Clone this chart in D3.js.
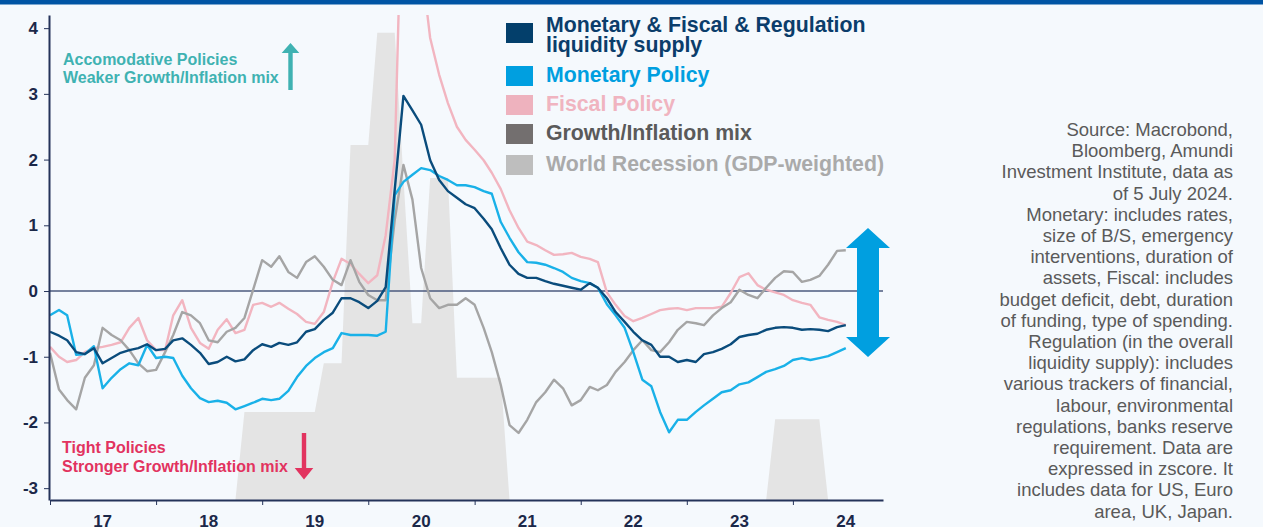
<!DOCTYPE html>
<html>
<head>
<meta charset="utf-8">
<script src="https://cdn.jsdelivr.net/npm/d3@7"></script>
<style>
  body { margin: 0; background: #f5f9fd; }
  svg { display: block; font-family: "Liberation Sans", Arial, sans-serif; }
</style>
</head>
<body>
<div id="chart"></div>
<script>
// monthly observations, Jan 2017 -> Jul 2024
var months = [
  "2017-01","2017-02","2017-03","2017-04","2017-05","2017-06","2017-07","2017-08","2017-09","2017-10","2017-11","2017-12",
  "2018-01","2018-02","2018-03","2018-04","2018-05","2018-06","2018-07","2018-08","2018-09","2018-10","2018-11","2018-12",
  "2019-01","2019-02","2019-03","2019-04","2019-05","2019-06","2019-07","2019-08","2019-09","2019-10","2019-11","2019-12",
  "2020-01","2020-02","2020-03","2020-04","2020-05","2020-06","2020-07","2020-08","2020-09","2020-10","2020-11","2020-12",
  "2021-01","2021-02","2021-03","2021-04","2021-05","2021-06","2021-07","2021-08","2021-09","2021-10","2021-11","2021-12",
  "2022-01","2022-02","2022-03","2022-04","2022-05","2022-06","2022-07","2022-08","2022-09","2022-10","2022-11","2022-12",
  "2023-01","2023-02","2023-03","2023-04","2023-05","2023-06","2023-07","2023-08","2023-09","2023-10","2023-11","2023-12",
  "2024-01","2024-02","2024-03","2024-04","2024-05","2024-06","2024-07"
]

// Monetary & Fiscal & Regulation liquidity supply
var liquidity = [
  -0.62,-0.68,-0.75,-0.93,-0.96,-0.87,-1.10,-1.02,-0.94,-0.90,-0.87,-0.81,
  -0.90,-0.88,-0.75,-0.72,-0.82,-0.94,-1.11,-1.08,-1.00,-1.07,-1.04,-0.90,
  -0.81,-0.85,-0.79,-0.82,-0.78,-0.62,-0.58,-0.44,-0.33,-0.11,-0.11,-0.17,
  -0.26,-0.15,0.06,1.54,2.97,2.75,2.53,1.99,1.69,1.52,1.42,1.32,
  1.26,1.10,0.94,0.65,0.40,0.26,0.20,0.20,0.15,0.11,0.08,0.05,
  0.02,0.12,0.05,-0.11,-0.32,-0.47,-0.62,-0.75,-0.82,-1.00,-1.00,-1.08,
  -1.05,-1.08,-0.96,-0.93,-0.88,-0.81,-0.70,-0.67,-0.65,-0.59,-0.56,-0.55,
  -0.56,-0.59,-0.58,-0.59,-0.61,-0.55,-0.52
]

// Monetary Policy
var monetary = [
  -0.37,-0.29,-0.37,-0.97,-0.96,-0.84,-1.48,-1.32,-1.19,-1.10,-1.13,-0.82,
  -1.02,-1.00,-1.02,-1.29,-1.48,-1.63,-1.69,-1.67,-1.70,-1.80,-1.75,-1.70,
  -1.64,-1.66,-1.64,-1.52,-1.31,-1.14,-1.02,-0.93,-0.87,-0.64,-0.67,-0.67,
  -0.67,-0.68,-0.62,1.46,1.66,1.77,1.87,1.84,1.75,1.69,1.61,1.61,
  1.58,1.52,1.48,1.05,0.81,0.59,0.44,0.43,0.40,0.35,0.29,0.20,
  0.15,0.12,0.05,-0.20,-0.37,-0.56,-0.93,-1.35,-1.45,-1.84,-2.15,-1.96,
  -1.96,-1.84,-1.74,-1.64,-1.54,-1.51,-1.42,-1.39,-1.31,-1.23,-1.19,-1.14,
  -1.05,-1.02,-1.05,-1.02,-0.99,-0.93,-0.87
]

// Fiscal Policy
var fiscal = [
  -0.85,-1.00,-1.08,-1.05,-0.93,-0.87,-0.85,-0.82,-0.78,-0.56,-0.41,-0.75,
  -0.90,-0.90,-0.37,-0.14,-0.56,-0.79,-0.88,-0.59,-0.43,-0.64,-0.59,-0.21,
  -0.18,-0.24,-0.18,-0.27,-0.35,-0.47,-0.50,-0.32,0.14,0.49,0.41,0.26,
  0.12,0.24,0.85,2.00,7.00,6.50,5.00,3.85,3.29,2.86,2.50,2.30,
  2.15,1.99,1.80,1.55,1.23,0.96,0.75,0.70,0.62,0.55,0.56,0.58,
  0.52,0.49,0.44,-0.02,-0.21,-0.38,-0.46,-0.41,-0.35,-0.29,-0.27,-0.26,
  -0.29,-0.26,-0.26,-0.26,-0.24,-0.03,0.21,0.27,0.09,0.02,-0.02,-0.06,
  -0.14,-0.18,-0.21,-0.40,-0.44,-0.47,-0.52
]

// Growth/Inflation mix
var growth = [
  -0.94,-1.50,-1.66,-1.80,-1.32,-1.13,-0.56,-0.67,-0.75,-0.90,-1.10,-1.22,
  -1.20,-0.93,-0.67,-0.32,-0.37,-0.49,-0.75,-0.78,-0.62,-0.56,-0.41,0.02,
  0.47,0.37,0.53,0.29,0.20,0.44,0.53,0.37,0.17,0.09,0.47,0.14,
  -0.06,-0.14,-0.14,1.08,1.92,1.39,0.35,-0.11,-0.26,-0.21,-0.21,-0.11,
  -0.21,-0.56,-0.93,-1.43,-2.04,-2.16,-1.96,-1.69,-1.54,-1.35,-1.48,-1.74,
  -1.66,-1.46,-1.51,-1.43,-1.23,-1.08,-0.90,-0.75,-0.90,-0.93,-0.78,-0.59,
  -0.47,-0.49,-0.52,-0.37,-0.26,-0.17,0.02,-0.06,-0.11,0.05,0.20,0.30,
  0.29,0.14,0.17,0.23,0.40,0.61,0.62
]

// World Recession (GDP-weighted), null = no recession
var recession = [
  null,null,null,null,null,null,null,null,null,null,null,null,
  null,null,null,null,null,null,null,null,null,null,-1.84,-1.84,
  -1.84,-1.84,-1.84,-1.84,-1.84,-1.84,-1.84,-1.10,-1.10,-1.10,2.22,2.22,
  2.22,3.93,3.93,3.93,1.72,-0.49,-0.49,1.72,1.72,1.72,-1.32,-1.32,
  -1.32,-1.32,-1.32,-1.32,null,null,null,null,null,null,null,null,
  null,null,null,null,null,null,null,null,null,null,null,null,
  null,null,null,null,null,null,null,null,null,null,-1.95,-1.95,
  -1.95,-1.95,-1.95,-1.95,null,null,null
]

var yTicks = [-3, -2, -1, 0, 1, 2, 3, 4]
var yearTicks = ["2017","2018","2019","2020","2021","2022","2023","2024"]
var yearLabels = ["17","18","19","20","21","22","23","24"]

var legendLabels = [
  ["Monetary & Fiscal & Regulation", "liquidity supply"],
  ["Monetary Policy"],
  ["Fiscal Policy"],
  ["Growth/Inflation mix"],
  ["World Recession (GDP-weighted)"]
]
var legendSquares = ["#033f6b", "#009fe0", "#eeb2be", "#736f6f", "#bebebe"]
var legendText = ["#0b3d6b", "#009fe0", "#f0b4c0", "#5a5a5a", "#aaaaaa"]

var noteLines = [
  "Source: Macrobond,",
  "Bloomberg, Amundi",
  "Investment Institute, data as",
  "of 5 July 2024.",
  "Monetary: includes rates,",
  "size of B/S, emergency",
  "interventions, duration of",
  "assets, Fiscal: includes",
  "budget deficit, debt, duration",
  "of funding, type of spending.",
  "Regulation (in the overall",
  "liquidity supply): includes",
  "various trackers of financial,",
  "labour, environmental",
  "regulations, banks reserve",
  "requirement. Data are",
  "expressed in zscore. It",
  "includes data for US, Euro",
  "area, UK, Japan."
]

// set the dimensions
var width = 1263
    height = 527
var plotLeft = 49, plotRight = 883, plotTop = 15, plotBottom = 500

var parseMonth = d3.timeParse("%Y-%m")
var parseYear = d3.timeParse("%Y")
var dates = months.map(parseMonth)

var x = d3.scaleTime()
    .domain([new Date(2017, 0, 1), new Date(2024, 10, 6)])
    .range([50, plotRight])
var y = d3.scaleLinear()
    .domain([-3.18, 4.2])
    .range([plotBottom, plotTop])

var svg = d3.select("#chart")
    .append("svg")
        .attr("width", width)
        .attr("height", height)

svg.append("rect")
    .attr("width", width).attr("height", height)
    .attr("fill", "#f5f9fd")
svg.append("rect")
    .attr("width", width).attr("height", 4.5)
    .attr("fill", "#0054a4")

svg.append("clipPath").attr("id", "plotclip")
    .append("rect")
    .attr("x", plotLeft).attr("y", plotTop)
    .attr("width", plotRight - plotLeft).attr("height", plotBottom - plotTop)

var plot = svg.append("g").attr("clip-path", "url(#plotclip)")

// recession shading
var recData = dates.map(function(d, i) { return {date: d, v: recession[i]} })
plot.append("path")
    .datum(recData)
    .attr("fill", "#e4e4e4")
    .attr("d", d3.area()
        .x(function(d) { return x(d.date) })
        .y0(y.range()[0])
        .y1(function(d) { return d.v == null ? y.range()[0] : y(d.v) }))

// zero line
plot.append("line")
    .attr("x1", plotLeft).attr("x2", plotRight)
    .attr("y1", y(0)).attr("y2", y(0))
    .attr("stroke", "#4b5a7e").attr("stroke-width", 1.3)

var series = [
  {values: fiscal, color: "#f2b5c0"},
  {values: growth, color: "#a5a5a5"},
  {values: monetary, color: "#19b1e8"},
  {values: liquidity, color: "#0a4c7c"}
]

var line = d3.line()
    .x(function(d) { return x(d.date) })
    .y(function(d) { return y(d.v) })

series.forEach(function(s) {
    plot.append("path")
        .datum(dates.map(function(d, i) { return {date: d, v: s.values[i]} }))
        .attr("fill", "none")
        .attr("stroke", s.color)
        .attr("stroke-width", 2.4)
        .attr("stroke-linejoin", "round")
        .attr("d", line)
})

// axes
var axisColor = "#24335a"
var yAxis = svg.append("g")
    .attr("transform", "translate(" + plotLeft + ",0)")
    .call(d3.axisLeft(y).tickValues(yTicks).tickSize(5).tickSizeOuter(0).tickPadding(6)
        .tickFormat(d3.format("d")))
yAxis.select(".domain").attr("stroke", axisColor).attr("stroke-width", 2)
yAxis.selectAll(".tick line").attr("stroke", axisColor)
yAxis.selectAll(".tick text")
    .attr("fill", "#1b2849")
    .style("font-size", "17px")
    .style("font-weight", "bold")
    .style("font-family", "'Liberation Sans', Arial, sans-serif")
    .text(function(d) { return d < 0 ? "-" + Math.abs(d) : d })

var xAxis = svg.append("g")
    .attr("transform", "translate(0," + plotBottom + ")")
    .call(d3.axisBottom(x).tickValues(yearTicks.map(parseYear)).tickSize(5).tickSizeOuter(0).tickFormat(""))
xAxis.select(".domain").attr("stroke", axisColor).attr("stroke-width", 2)
xAxis.selectAll(".tick line").attr("stroke", axisColor)

svg.selectAll(".yearlabel")
    .data(yearLabels)
    .enter()
    .append("text")
        .attr("x", function(d, i) { return x(new Date(+yearTicks[i], 6, 1)) })
        .attr("y", 527)
        .attr("text-anchor", "middle")
        .attr("fill", "#1b2849")
        .style("font-size", "17px")
        .style("font-weight", "bold")
        .text(function(d) { return d })

// legend
var legendY = [32, 82, 111, 140, 171]
var legend = svg.append("g")
legendLabels.forEach(function(lines, i) {
    var top = lines.length > 1 ? 23 : legendY[i] - 16
    legend.append("rect")
        .attr("x", 506).attr("y", top)
        .attr("width", 27).attr("height", 20)
        .attr("fill", legendSquares[i])
    lines.forEach(function(t, j) {
        legend.append("text")
            .attr("x", 546).attr("y", legendY[i] + j * 20)
            .attr("fill", legendText[i])
            .style("font-size", "21.3px")
            .style("font-weight", "bold")
            .text(t)
    })
})

// annotations
var teal = "#3fb2b2", red = "#e2335f"
svg.append("text").attr("x", 63).attr("y", 65).attr("fill", teal)
    .style("font-size", "16px").style("font-weight", "bold").text("Accomodative Policies")
svg.append("text").attr("x", 63).attr("y", 83).attr("fill", teal)
    .style("font-size", "16px").style("font-weight", "bold").text("Weaker Growth/Inflation mix")
svg.append("path").attr("fill", teal)
    .attr("d", "M288.3,90 L288.3,53 L281.7,53 L290.5,43 L299.3,53 L292.7,53 L292.7,90 Z")

svg.append("text").attr("x", 62).attr("y", 453).attr("fill", red)
    .style("font-size", "16px").style("font-weight", "bold").text("Tight Policies")
svg.append("text").attr("x", 62).attr("y", 472).attr("fill", red)
    .style("font-size", "16px").style("font-weight", "bold").text("Stronger Growth/Inflation mix")
svg.append("path").attr("fill", red)
    .attr("d", "M301.8,433 L306.2,433 L306.2,468 L313.3,468 L304,479.5 L294.7,468 L301.8,468 Z")

// double arrow on the right
svg.append("path").attr("fill", "#009fe0")
    .attr("d", "M868,228 L890,248 L879,248 L879,337 L890,337 L868,357 L846,337 L857,337 L857,248 L846,248 Z")

// source note
svg.append("g").selectAll("text")
    .data(noteLines)
    .enter()
    .append("text")
        .attr("x", 1233)
        .attr("y", function(d, i) { return 136 + i * 21.2 })
        .attr("text-anchor", "end")
        .attr("fill", "#5a5a5a")
        .style("font-size", "18.5px")
        .text(function(d) { return d })
</script>
</body>
</html>
